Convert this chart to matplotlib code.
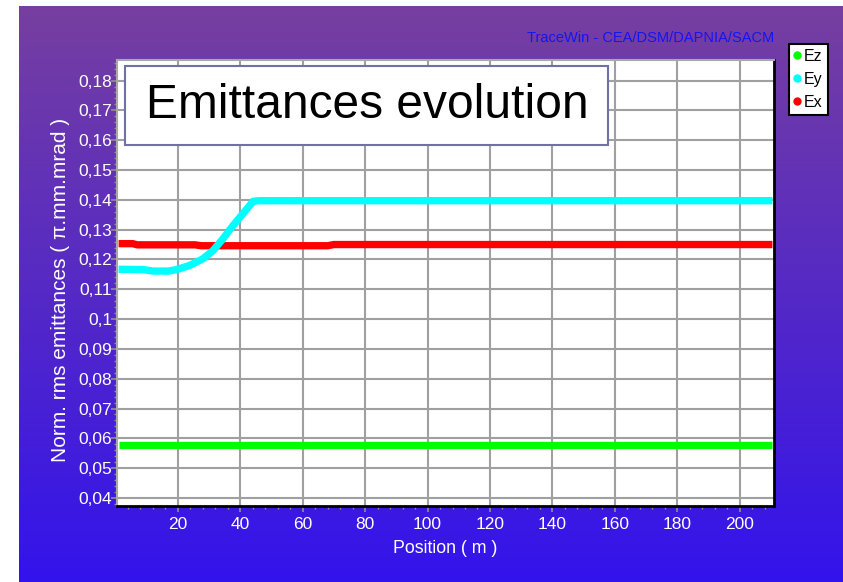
import numpy as np
import matplotlib
matplotlib.use("Agg")
import matplotlib.pyplot as plt
from matplotlib.lines import Line2D
from matplotlib.patches import Rectangle
from matplotlib.ticker import MultipleLocator, FuncFormatter

plt.rcParams['font.family'] = ['Liberation Sans', 'DejaVu Sans']

# ---- data ----
ez_pos = [1.0, 45.0, 105.0, 210.5]
ez_val = [0.0578, 0.0578, 0.0578, 0.0578]

ey_pos = [1.0, 9.0, 12.0, 17.0, 19.6, 23.8, 28.0, 31.3, 34.5, 37.7, 40.9, 44.1, 46.0, 105.0, 210.5]
ey_val = [0.1167, 0.1166, 0.1161, 0.1161, 0.1166, 0.1180, 0.1202, 0.1230, 0.1270, 0.1314, 0.1354, 0.1395, 0.1397, 0.1397, 0.1397]

ex_pos = [1.0, 5.5, 7.0, 25.5, 27.5, 68.0, 70.0, 105.0, 210.5]
ex_val = [0.1253, 0.1253, 0.1249, 0.1249, 0.1246, 0.1246, 0.1250, 0.1250, 0.1250]

x_ticks = [20, 40, 60, 80, 100, 120, 140, 160, 180, 200]
y_ticks = [0.04, 0.05, 0.06, 0.07, 0.08, 0.09, 0.10, 0.11, 0.12, 0.13, 0.14, 0.15, 0.16, 0.17, 0.18]

W, H = 843, 582
fig = plt.figure(figsize=(W / 100, H / 100), dpi=100)
fig.patch.set_facecolor('white')

# gradient background
bg = fig.add_axes([19 / W, 0, 1 - 19 / W, 1 - 6 / H], zorder=-5)
top = np.array([0.463, 0.247, 0.627])
bot = np.array([0.200, 0.075, 0.925])
t = np.linspace(0, 1, 256)[:, None]
grad = top[None, :] * (1 - t) + bot[None, :] * t
bg.imshow(grad[:, None, :], aspect='auto', extent=[0, 1, 0, 1], origin='upper')
bg.set_axis_off()

ax = fig.add_axes([117 / W, 1 - 506 / H, (774 - 117) / W, (506 - 60) / H])
ax.set_facecolor('white')

lw = 5.3
ax.plot(ez_pos, ez_val, color='#00FF00', lw=lw, solid_capstyle='butt', zorder=3)
ax.plot(ex_pos, ex_val, color='#FF0000', lw=lw, solid_capstyle='butt', zorder=3)
ax.plot(ey_pos, ey_val, color='#00FFFF', lw=lw, solid_capstyle='butt', zorder=4)

ax.set_xlim(0.5, 211)
ax.set_ylim(0.0373, 0.1869)
ax.set_xticks(x_ticks)
ax.set_yticks(y_ticks)
ax.xaxis.set_minor_locator(MultipleLocator(4))
ax.yaxis.set_minor_locator(MultipleLocator(0.002))

def yfmt(v, pos):
    s = ('%.2f' % v).rstrip('0')
    return s.replace('.', ',')
ax.yaxis.set_major_formatter(FuncFormatter(yfmt))

ax.grid(True, which='major', color='#A0A0A0', lw=1.5)
ax.set_axisbelow(True)

ax.tick_params(axis='both', which='major', colors='#909090', labelcolor='white',
               labelsize=12.5, length=4.5, width=1.2)
ax.tick_params(axis='y', which='major', pad=-1)
ax.tick_params(axis='x', which='major', pad=3.5)
ax.tick_params(axis='both', which='minor', colors='#909090', length=2.5, width=1)

for s in ['top', 'left']:
    ax.spines[s].set_color('#A8A8A8')
    ax.spines[s].set_linewidth(1.5)
for s in ['right', 'bottom']:
    ax.spines[s].set_color('black')
    ax.spines[s].set_linewidth(2)

ax.set_xlabel('Position ( m )', color='white', fontsize=12.8, labelpad=6)
ax.set_ylabel('Norm. rms emittances ( π.mm.mrad )', color='white', fontsize=15, labelpad=6)
ax.yaxis.label.set_y(0.484)

# title box
fig.patches.append(Rectangle((125 / W, 1 - 145 / H), (608 - 125) / W, (145 - 66) / H,
                             transform=fig.transFigure, facecolor='white',
                             edgecolor='#7070A8', lw=1.5, zorder=5))
fig.text((125 + 608) / 2 / W + 1 / W, 1 - 106 / H, 'Emittances evolution', fontsize=34.5,
         ha='center', va='center', color='black', zorder=6)

fig.text(774 / W, 1 - 38 / H, 'TraceWin - CEA/DSM/DAPNIA/SACM',
         family=['Liberation Sans Narrow', 'Liberation Sans'], fontsize=10.5,
         color='#1515F0', ha='right', va='center')

handles = [Line2D([], [], ls='none', marker='o', ms=5, color=c, mec=c)
           for c in ['#00FF00', '#00FFFF', '#FF0000']]
leg = fig.legend(handles, ['Ez', 'Ey', 'Ex'], loc='upper left',
                 bbox_to_anchor=(789 / W, 1 - 44 / H), fontsize=11.5,
                 frameon=True, fancybox=False, handlelength=0.45, handletextpad=0.2,
                 borderpad=0.3, labelspacing=0.5, borderaxespad=0, framealpha=1)
leg.get_frame().set_edgecolor('black')
leg.get_frame().set_linewidth(1.5)

fig.savefig('out.png', dpi=100)
